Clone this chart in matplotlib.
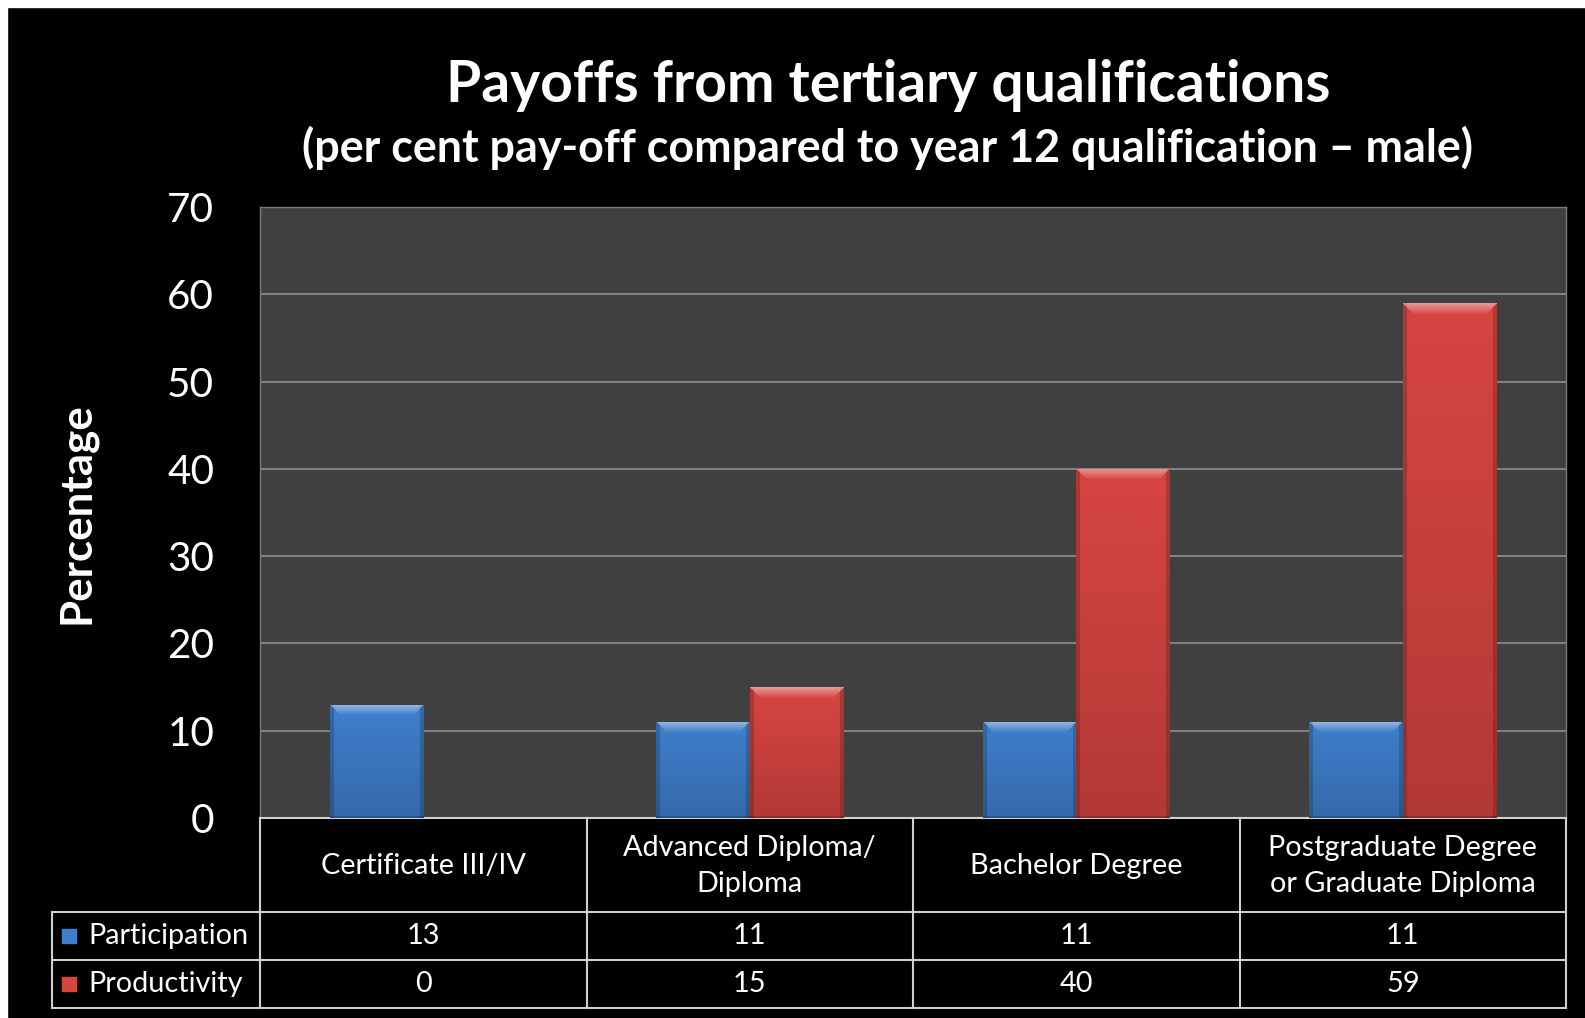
import numpy as np
import matplotlib
matplotlib.use("Agg")
import matplotlib.pyplot as plt
from matplotlib.patches import Rectangle
import matplotlib.colors as mcolors

# ---------------- data ----------------
categories = ["Certificate III/IV", "Advanced Diploma/\nDiploma", "Bachelor Degree",
              "Postgraduate Degree\nor Graduate Diploma"]
series_names = ["Participation", "Productivity"]
participation = [13, 11, 11, 11]
productivity = [0, 15, 40, 59]
yticks = [0, 10, 20, 30, 40, 50, 60, 70]
title = "Payoffs from tertiary qualifications"
subtitle = "(per cent pay-off compared to year 12 qualification \u2013 male)"
ylabel = "Percentage"

# ---------------- style ----------------
plt.rcParams['font.family'] = ['Lato', 'DejaVu Sans']
W, H = 1585, 1018
BLUE = '#3f7fcc'
RED = '#d74541'
series_colors = [BLUE, RED]
LINE = '#d0d0d0'

fig = plt.figure(figsize=(W / 100, H / 100), dpi=100, facecolor='black')


def fx(x):
    return x / W


def fy(y):
    return 1 - y / H


# white strips on top / left edge
fig.patches.append(Rectangle((0, fy(7)), 1, 7 / H, transform=fig.transFigure,
                             color='white', zorder=0))
fig.patches.append(Rectangle((0, 0), 7 / W, 1, transform=fig.transFigure,
                             color='white', zorder=0))

renderer = fig.canvas.get_renderer()


def fit_size(s, target, weight='normal'):
    t = fig.text(0.5, 0.5, s, fontsize=20, fontweight=weight)
    bb = t.get_window_extent(renderer)
    t.remove()
    return 20 * target / bb.width


fs_title = fit_size(title, 885, 'bold')
fs_sub = fit_size(subtitle, 1173, 'bold')
fs_tick = fit_size("70", 47)
fs_ylab = fit_size(ylabel, 222, 'bold')
fs_tab = fit_size("Participation", 161)

# ---------------- main axes ----------------
ax = fig.add_axes([fx(260), fy(818), (1566 - 260) / W, (818 - 207) / H])
ax.set_facecolor('#404040')
x = np.arange(len(categories))
bw = 0.286
bars1 = ax.bar(x - bw / 2, participation, bw, color=BLUE, zorder=3)
bars2 = ax.bar(x + bw / 2, productivity, bw, color=RED, zorder=3)
ax.set_xlim(-0.5, len(categories) - 0.5)
ax.set_ylim(0, 70)
ax.set_yticks(yticks)
ax.set_yticklabels([str(v) for v in yticks])
ax.set_xticks([])
ax.yaxis.grid(True, color='#8a8a8a', lw=1.3)
ax.set_axisbelow(True)
ax.tick_params(axis='y', length=0, colors='white', labelsize=fs_tick, pad=33)
for s in ax.spines.values():
    s.set_color('#7a7a7a')
    s.set_linewidth(1.0)
ax.spines['bottom'].set_color(LINE)
ax.spines['bottom'].set_linewidth(1.5)


def shade(bar, base):
    h = bar.get_height()
    if h <= 0:
        return
    x0, y0, w = bar.get_x(), bar.get_y(), bar.get_width()
    p0 = ax.transData.transform((x0, y0))
    p1 = ax.transData.transform((x0 + w, y0 + h))
    pw = max(int(round(p1[0] - p0[0])), 2)
    ph = max(int(round(p1[1] - p0[1])), 2)
    rgb = np.array(mcolors.to_rgb(base))
    rows = np.arange(ph)[:, None] * np.ones((1, pw))
    cols = np.ones((ph, 1)) * np.arange(pw)[None, :]
    t = rows / ph
    img = rgb[None, None, :] * (1.0 - 0.17 * t)[..., None]
    edge = np.minimum(cols, pw - 1 - cols)
    side = edge < 4
    img[side] = img[side] * 0.82
    bev = 11
    top = (rows < bev) & (cols >= rows) & (cols <= pw - 1 - rows)
    light = 0.45 * (1 - rows / bev)
    img = np.where(top[..., None], img + (1 - img) * light[..., None], img)
    img[-2:, :] *= 0.8
    img = np.clip(img, 0, 1)
    im = ax.imshow(img, extent=(x0, x0 + w, y0, y0 + h), origin='upper',
                   aspect='auto', zorder=4, interpolation='bilinear')
    im.set_clip_path(bar)


for b in bars1:
    shade(b, BLUE)
for b in bars2:
    shade(b, RED)
ax.set_xlim(-0.5, len(categories) - 0.5)
ax.set_ylim(0, 70)

# ---------------- titles ----------------
fig.text(fx(888), fy(102), title, ha='center', va='baseline', color='white',
         fontsize=fs_title, fontweight='bold')
fig.text(fx(888), fy(162), subtitle, ha='center', va='baseline', color='white',
         fontsize=fs_sub, fontweight='bold')
fig.text(fx(76), fy(513), ylabel, ha='center', va='center', rotation=90,
         color='white', fontsize=fs_ylab, fontweight='bold')

# ---------------- data table ----------------
ppu = (1566 - 260) / len(categories)
tx0 = -0.5 - (260 - 52) / ppu
tab = fig.add_axes([fx(52), fy(1008), (1566 - 52) / W, (1008 - 818) / H])
tab.set_xlim(tx0, len(categories) - 0.5)
tab.set_ylim(190, 0)
tab.axis('off')
xr = len(categories) - 0.5
lk = dict(color=LINE, lw=1.5, clip_on=False, solid_capstyle='projecting')
for k in range(len(categories) + 1):
    tab.plot([k - 0.5, k - 0.5], [0, 190], **lk)
for yy in (94, 142, 190):
    tab.plot([tx0, xr], [yy, yy], **lk)
tab.plot([tx0, tx0], [94, 190], **lk)

for i, c in enumerate(categories):
    tab.text(i, 48, c, ha='center', va='center', color='white', fontsize=fs_tab,
             linespacing=1.5)

series_vals = [participation, productivity]
row_y = [118, 166]
for name, vals, col, yy in zip(series_names, series_vals, series_colors, row_y):
    tab.plot([tx0 + 17 / ppu], [yy], marker='s', ms=10, color=col,
             markeredgecolor=col, clip_on=False)
    tab.text(tx0 + 36 / ppu, yy, name, ha='left', va='center', color='white',
             fontsize=fs_tab)
    for i, v in enumerate(vals):
        tab.text(i, yy, str(v), ha='center', va='center', color='white',
                 fontsize=fs_tab)

fig.savefig("out.png", dpi=100, facecolor=fig.get_facecolor())
